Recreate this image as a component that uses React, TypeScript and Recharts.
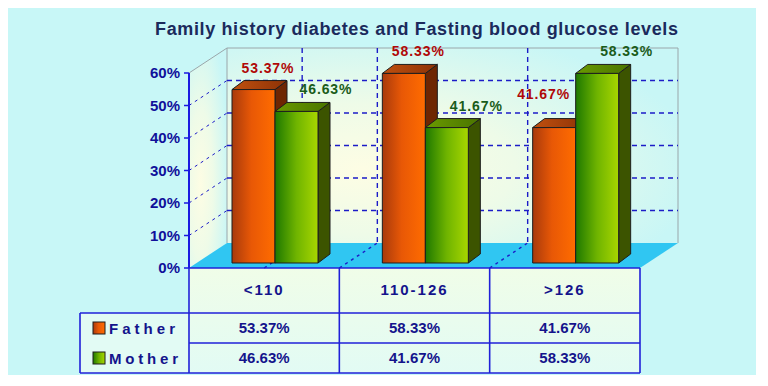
import React from "react";
import { BarChart, Bar, XAxis, YAxis, CartesianGrid, LabelList } from "recharts";

const categories = ["<110", "110-126", ">126"];
const father = [53.37, 58.33, 41.67];
const mother = [46.63, 41.67, 58.33];
const yTicks = [0, 10, 20, 30, 40, 50, 60];
const seriesNames = ["Father", "Mother"];
const title = "Family history diabetes and Fasting blood glucose levels";

const data = categories.map((range, i) => ({ range, father: father[i], mother: mother[i] }));

// layout
const W = 748;
const H = 367;
const M = { top: 65, right: 116, bottom: 107, left: 121 };
const AXIS_W = 60;
const left = M.left + AXIS_W;
const right = W - M.right;
const top = M.top;
const bottom = H - M.bottom;
const DX = 38; // depth of the floor / wall
const DY = -25;
const BAR_DX = 11; // bars stand a bit back on the floor
const BAR_DY = -5;
const BOX_DX = 12; // depth of one bar
const BOX_DY = -9;
const band = (right - left) / categories.length;

const FONT = "'Liberation Sans Narrow', 'Liberation Sans', Arial, sans-serif";
const NAVY = "#14148c";

const pct = (v: number) => `${v.toFixed(2)}%`;

function box(front: string, topFill: string, side: string) {
  return (p: any) => {
    const x = p.x + BAR_DX;
    const y = p.y + BAR_DY;
    const w = p.width;
    const h = p.height;
    return (
      <g stroke="#1e1e1e" strokeWidth={1} strokeLinejoin="round">
        <polygon
          points={`${x + w},${y} ${x + w + BOX_DX},${y + BOX_DY} ${x + w + BOX_DX},${y + h + BOX_DY} ${x + w},${y + h}`}
          fill={side}
        />
        <polygon
          points={`${x},${y} ${x + BOX_DX},${y + BOX_DY} ${x + w + BOX_DX},${y + BOX_DY} ${x + w},${y}`}
          fill={topFill}
        />
        <rect x={x} y={y} width={w} height={h} fill={front} />
      </g>
    );
  };
}

function valueLabel(color: string, series: "father" | "mother") {
  return (p: any) => {
    const i = p.index;
    let dx = series === "father" ? 14 : 29;
    let dy = -17;
    // father label moves left and up when the mother bar next to it is taller
    if (series === "father" && father[i] < mother[i]) {
      dx = -11;
      dy = -29;
    }
    const cx = p.x + p.width / 2 + BAR_DX + dx;
    const cy = p.y + BAR_DY + dy;
    return (
      <text
        key={`${series}-${i}`}
        x={cx}
        y={cy}
        textAnchor="middle"
        fill={color}
        fontFamily={FONT}
        fontWeight={700}
        fontSize={14}
        textLength={52}
        lengthAdjust="spacing"
      >
        {pct(p.value)}
      </text>
    );
  };
}

const hLine = (p: any) => {
  const y = p.y1;
  if (Math.abs(y - bottom) < 1) return <g key={`h-${y}`} />;
  const isTop = Math.abs(y - top) < 1;
  const stroke = isTop ? "#9aa6aa" : "#1c1cc8";
  const dash = isTop ? undefined : "5 4";
  return (
    <g key={`h-${y}`}>
      <line x1={p.x1} y1={y} x2={p.x1 + DX} y2={y + DY} stroke={stroke} strokeDasharray={isTop ? undefined : "3 4"} />
      <line x1={p.x1 + DX} y1={y + DY} x2={p.x2 + DX} y2={y + DY} stroke={stroke} strokeWidth={isTop ? 1 : 1.4} strokeDasharray={dash} />
    </g>
  );
};

const vLine = (p: any) => {
  const xb = p.x1 + band / 2;
  if (xb > right - 1) return <g key={`v-${p.x1}`} />;
  return (
    <g key={`v-${p.x1}`} stroke="#1c1cc8" strokeWidth={1.4}>
      <line x1={xb} y1={bottom} x2={xb + DX} y2={bottom + DY} strokeDasharray="3 4" />
      <line x1={xb + DX} y1={top + DY} x2={xb + DX} y2={bottom + DY} strokeDasharray="5 4" />
    </g>
  );
};

function Background() {
  const rowH = 45;
  const r1 = bottom + rowH;
  const r2 = r1 + 30;
  const r3 = r2 + 30;
  const tableLeft = 72;
  const cols = categories.map((_, i) => left + band * i);
  const swatches = ["url(#fatherFront)", "url(#motherFront)"];
  const rows = [father, mother];
  return (
    <svg width={W} height={H} style={{ position: "absolute", left: 0, top: 0 }}>
      <defs>
        <linearGradient id="fatherFront" x1="0" y1="0" x2="1" y2="0">
          <stop offset="0%" stopColor="#a83a0c" />
          <stop offset="45%" stopColor="#e85806" />
          <stop offset="100%" stopColor="#ff6c00" />
        </linearGradient>
        <linearGradient id="fatherTop" x1="0" y1="0" x2="1" y2="0">
          <stop offset="0%" stopColor="#c0500f" />
          <stop offset="100%" stopColor="#8c3206" />
        </linearGradient>
        <linearGradient id="motherFront" x1="0" y1="0" x2="1" y2="0">
          <stop offset="0%" stopColor="#1e7800" />
          <stop offset="50%" stopColor="#6fb400" />
          <stop offset="100%" stopColor="#a8d600" />
        </linearGradient>
        <linearGradient id="motherTop" x1="0" y1="0" x2="1" y2="0">
          <stop offset="0%" stopColor="#6a9a00" />
          <stop offset="100%" stopColor="#4a7400" />
        </linearGradient>
        <radialGradient id="wall" cx="0.3" cy="0.62" r="0.75">
          <stop offset="0%" stopColor="#fdfde4" />
          <stop offset="45%" stopColor="#eefbe8" />
          <stop offset="100%" stopColor="#c8f6f6" />
        </radialGradient>
        <linearGradient id="cell" x1="0" y1="0" x2="0" y2="1">
          <stop offset="0%" stopColor="#f0fde8" />
          <stop offset="100%" stopColor="#e2fbf4" />
        </linearGradient>
      </defs>
      <rect width={W} height={H} fill="#c8f7f7" />
      <text
        x={(147 + 670) / 2}
        y={27}
        textAnchor="middle"
        fill="#1b2a5c"
        fontFamily={FONT}
        fontWeight={700}
        fontSize={18}
        textLength={523}
        lengthAdjust="spacing"
      >
        {title}
      </text>
      {/* side wall and back wall */}
      <polygon
        points={`${left},${top} ${left + DX},${top + DY} ${left + DX},${bottom + DY} ${left},${bottom}`}
        fill="url(#wall)"
      />
      <rect x={left + DX} y={top + DY} width={right - left} height={bottom - top} fill="url(#wall)" />
      <line x1={left + DX} y1={top + DY} x2={left + DX} y2={bottom + DY} stroke="#9aa6aa" />
      <line x1={right + DX} y1={top + DY} x2={right + DX} y2={bottom + DY} stroke="#9aa6aa" />
      {/* floor */}
      <polygon
        points={`${left},${bottom} ${right},${bottom} ${right + DX},${bottom + DY} ${left + DX},${bottom + DY}`}
        fill="#30c6f2"
      />
      {/* data table */}
      <rect x={left} y={bottom} width={right - left} height={r3 - bottom} fill="url(#cell)" />
      <rect x={tableLeft} y={r1} width={left - tableLeft} height={r3 - r1} fill="#e2fbf4" />
      <g stroke="#2020d8" strokeWidth={1.6} fill="none">
        <line x1={left} y1={bottom} x2={right} y2={bottom} />
        <line x1={tableLeft} y1={r1} x2={right} y2={r1} />
        <line x1={left} y1={r2} x2={right} y2={r2} />
        <line x1={tableLeft} y1={r3} x2={right} y2={r3} />
        <line x1={tableLeft} y1={r1} x2={tableLeft} y2={r3} />
        {cols.map((cx) => (
          <line key={cx} x1={cx} y1={bottom} x2={cx} y2={r3} />
        ))}
        <line x1={right} y1={bottom} x2={right} y2={r3} />
      </g>
      <g fill={NAVY} fontFamily={FONT} fontWeight={700} fontSize={15} textAnchor="middle">
        {categories.map((c, i) => (
          <text key={c} x={cols[i] + band / 2} y={bottom + 27} letterSpacing={2}>
            {c}
          </text>
        ))}
        {rows.map((vals, r) =>
          vals.map((v, i) => (
            <text key={`${r}-${i}`} x={cols[i] + band / 2} y={r1 + 20 + r * 30} textLength={51} lengthAdjust="spacing">
              {pct(v)}
            </text>
          ))
        )}
      </g>
      {seriesNames.map((name, r) => (
        <g key={name}>
          <rect x={85} y={r1 + 9 + r * 30} width={12} height={12} fill={swatches[r]} stroke="#1e1e1e" />
          <text
            x={101}
            y={r1 + 21 + r * 30}
            fill={NAVY}
            fontFamily={FONT}
            fontWeight={700}
            fontSize={15}
            textLength={r === 0 ? 66 : 69}
            lengthAdjust="spacing"
          >
            {name}
          </text>
        </g>
      ))}
    </svg>
  );
}

export default function App() {
  return (
    <div style={{ position: "relative", width: W, height: H, fontFamily: FONT }}>
      <Background />
      <div style={{ position: "absolute", left: 0, top: 0 }}>
        <BarChart width={W} height={H} data={data} margin={M} barCategoryGap={32} barGap={0}>
          <CartesianGrid horizontal={hLine} vertical={vLine} />
          <XAxis dataKey="range" hide />
          <YAxis
            width={AXIS_W}
            domain={[0, 60]}
            ticks={yTicks}
            tickFormatter={(v) => `${v}%`}
            axisLine={{ stroke: "#1a1ae0", strokeWidth: 2 }}
            tickLine={{ stroke: "#1a1ae0", strokeWidth: 1.5 }}
            tickSize={5}
            tickMargin={4}
            tick={{ fontSize: 15, fontWeight: 700, fill: "#10109a", fontFamily: FONT }}
          />
          <Bar
            dataKey="father"
            name="Father"
            isAnimationActive={false}
            shape={box("url(#fatherFront)", "url(#fatherTop)", "#6e2602")}
          >
            <LabelList dataKey="father" content={valueLabel("#b00808", "father")} />
          </Bar>
          <Bar
            dataKey="mother"
            name="Mother"
            isAnimationActive={false}
            shape={box("url(#motherFront)", "url(#motherTop)", "#3c5400")}
          >
            <LabelList dataKey="mother" content={valueLabel("#1a5c1a", "mother")} />
          </Bar>
        </BarChart>
      </div>
    </div>
  );
}
